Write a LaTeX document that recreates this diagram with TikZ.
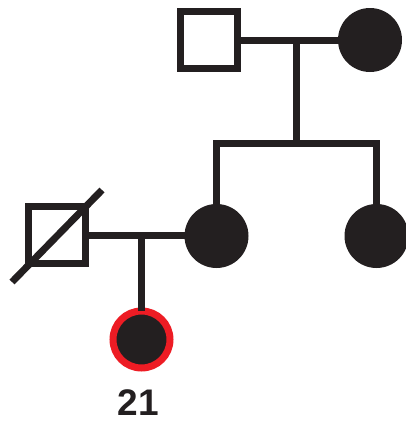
\documentclass[tikz,border=0pt]{standalone}
\usepackage{fontspec}
\setmainfont{Liberation Sans}
\definecolor{ink}{HTML}{231F20}
\definecolor{redline}{HTML}{ED1C24}
\begin{document}
\begin{tikzpicture}[x=1pt,y=-1pt,
  male/.style={draw=ink,line width=7pt,fill=white,rectangle,minimum size=57pt,inner sep=0pt,outer sep=0pt},
  female/.style={fill=ink,circle,minimum size=64pt,inner sep=0pt,outer sep=0pt},
  proband/.style={fill=ink,draw=redline,line width=7pt,circle,minimum size=57pt,inner sep=0pt,outer sep=0pt},
  link/.style={draw=ink,line width=7pt}]
\useasboundingbox (0,0) rectangle (406,423);
% generation I
\node[male] (gf) at (209,40) {};
\node[female] (gm) at (370,40) {};
\coordinate (m1) at (296.5,40);
\coordinate (s1) at (296.5,143);
\coordinate (sl) at (216.5,143);
\coordinate (sr) at (376.5,143);
% generation II
\node[female] (mo) at (216.5,236) {};
\node[female] (au) at (376.5,236) {};
\node[male,minimum size=57pt] (fa) at (56.5,235) {};
\coordinate (d1) at (12,282);
\coordinate (d2) at (102,190);
\coordinate (m2) at (141.5,235.5);
% generation III
\node[proband] (pr) at (141.5,339.5) {};
\node[font=\bfseries\fontsize{37}{37}\selectfont,text=ink,anchor=base,inner sep=0pt,text depth=0pt] (lab) at (138.5,415) {21};
% connectors
\draw[link] (gf.east) -- (gm.west);
\draw[link] (m1) -- (s1);
\draw[link,line join=miter] (mo.north) -- (sl) -- (sr) -- (au.north);
\draw[link] (fa.east |- m2) -- (mo.west |- m2);
\draw[link] (m2) -- (pr.north);
\draw[link] (d1) -- (d2);
\end{tikzpicture}
\end{document}
